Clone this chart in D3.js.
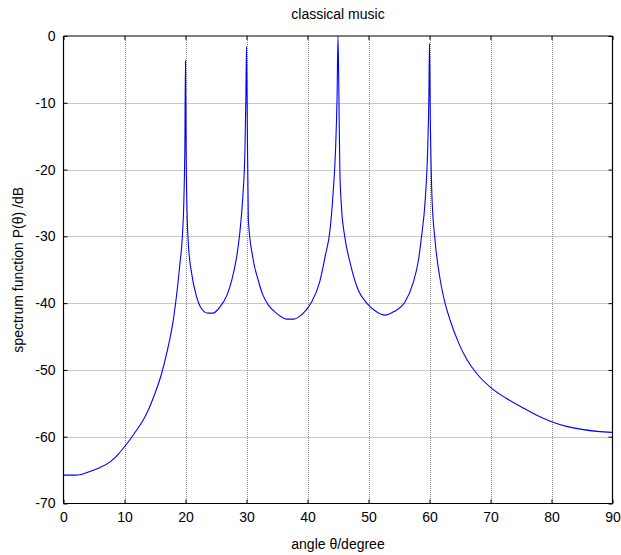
<!DOCTYPE html>
<html><head><meta charset="utf-8">
<script src="https://cdn.jsdelivr.net/npm/d3@7"></script>
<style>body{margin:0;background:#fff}svg{display:block}text{font-family:"Liberation Sans",Arial,sans-serif;fill:#000}</style>
</head><body>
<script>
const angles = [0,1,2,2.7,4.3,6,7.6,9,10,11,12,13,14,15,16,17,18,18.7,19.1,19.5,19.75,19.9,20,20.1,20.25,20.5,21.0,21.8,22.6,23.7,24.5,25.7,26.8,27.6,28.4,28.9,29.4,29.75,29.9,30,30.1,30.3,31.0,31.9,32.7,33.6,34.9,36.6,37.7,38.8,39.8,40.7,42.0,42.9,43.7,44.2,44.6,44.85,45,45.15,45.3,45.6,46.1,47.0,48.3,49.7,51.3,52.7,54.1,56.0,57.3,58.2,58.7,59.3,59.7,59.9,60,60.1,60.4,60.9,61.7,62.5,63.4,64.7,66.1,67.7,70,72.5,75,77.5,80,82.5,85,87.5,90];
const spectrum = [-65.75,-65.75,-65.75,-65.7,-65.2,-64.6,-63.8,-62.6,-61.5,-60.3,-59.0,-57.6,-55.8,-53.5,-50.8,-47.2,-42.5,-37.5,-34,-29.8,-24,-16,-3.7,-17,-26,-31.5,-35.5,-39,-40.8,-41.5,-41.5,-40.5,-38.8,-36.5,-33,-29.5,-24,-17,-9,-1.6,-10,-27.5,-33,-36.5,-38.8,-40.3,-41.5,-42.4,-42.4,-41.9,-41.0,-39.8,-36.8,-33,-29,-23.5,-17,-9,0,-9,-20,-26,-30,-34,-38,-40,-41.3,-41.8,-41.3,-39.8,-37,-33.5,-30,-24.5,-17,-9,-1.1,-10,-24,-30.5,-36.2,-39.8,-42.6,-45.8,-48.4,-50.5,-52.6,-54.2,-55.5,-56.75,-57.75,-58.45,-58.9,-59.2,-59.35];
const xTicks = [0,10,20,30,40,50,60,70,80,90];
const yTicks = [0,-10,-20,-30,-40,-50,-60,-70];
const titleText = "classical music";
const xLabel = "angle θ/degree";
const yLabel = "spectrum function P(θ) /dB";

const W = 621, H = 555;
const L = 63.5, R = 612.5, T = 36, B = 503.5;
const svg = d3.select("body").append("svg").attr("width", W).attr("height", H);
const x = d3.scaleLinear().domain([0, 90]).range([L, R]);
const y = d3.scaleLinear().domain([-70, 0]).range([B, T]);

// grid
const grid = svg.append("g").attr("stroke", "#909090").attr("stroke-width", 1).attr("stroke-dasharray", "1,1");
xTicks.slice(1, -1).forEach(t => grid.append("line").attr("x1", Math.round(x(t)) + 0.5).attr("x2", Math.round(x(t)) + 0.5).attr("y1", T).attr("y2", B));
yTicks.slice(1, -1).forEach(t => grid.append("line").attr("y1", Math.round(y(t)) + 0.5).attr("y2", Math.round(y(t)) + 0.5).attr("x1", L).attr("x2", R));

// curve
const line = d3.line().x((d, i) => x(angles[i])).y(d => y(d)).curve(d3.curveMonotoneX);
svg.append("path").datum(spectrum).attr("d", line).attr("fill", "none").attr("stroke", "#0000ff").attr("stroke-width", 1.1);

// axes
const fmt = d => String(d);
const xb = d3.axisBottom(x).tickValues(xTicks).tickSize(-4).tickPadding(9).tickFormat(fmt);
const xt = d3.axisTop(x).tickValues(xTicks).tickSize(-4).tickFormat("");
const yl = d3.axisLeft(y).tickValues(yTicks).tickSize(-4).tickPadding(8).tickFormat(fmt);
const yr = d3.axisRight(y).tickValues(yTicks).tickSize(-4).tickFormat("");
function style(g) {
  g.selectAll("path.domain").attr("stroke", "#000").attr("stroke-width", 1.2);
  g.selectAll(".tick line").attr("stroke", "#000");
  g.selectAll("text").style("font-size", "14px").style("font-family", "Liberation Sans, Arial, sans-serif").attr("fill", "#000");
}
svg.append("g").attr("transform", `translate(0,${B})`).call(xb).call(style).call(g => g.select(".domain").attr("d", `M${L},0H${R}`));
svg.append("g").attr("transform", `translate(0,${T})`).call(xt).call(style).call(g => g.select(".domain").attr("d", `M${L},0H${R}`));
svg.append("g").attr("transform", `translate(${L},0)`).call(yl).call(style).call(g => g.select(".domain").attr("d", `M0,${T}V${B}`));
svg.append("g").attr("transform", `translate(${R},0)`).call(yr).call(style).call(g => g.select(".domain").attr("d", `M0,${T}V${B}`));

svg.append("text").attr("x", (L + R) / 2).attr("y", 19).attr("text-anchor", "middle").style("font-size", "14px").text(titleText);
svg.append("text").attr("x", (L + R) / 2).attr("y", 549).attr("text-anchor", "middle").style("font-size", "14px").text(xLabel);
svg.append("text").attr("transform", `translate(23,${(T + B) / 2}) rotate(-90)`).attr("text-anchor", "middle").style("font-size", "14px").text(yLabel);
</script>
</body></html>
